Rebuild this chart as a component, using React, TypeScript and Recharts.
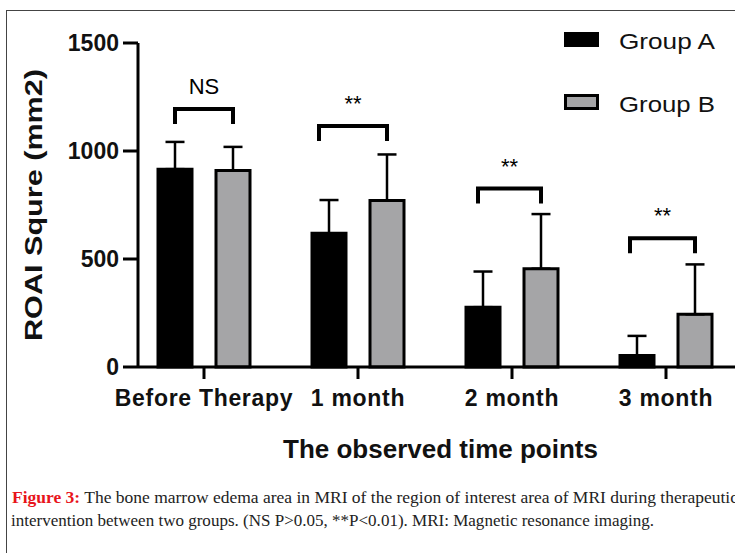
import { BarChart, Bar, XAxis, YAxis, ErrorBar, LabelList, Legend } from 'recharts';

const categories = ['Before Therapy', '1 month', '2 month', '3 month'];
const groupA = [916, 619, 277, 53];
const groupASd = [126, 154, 165, 91];
const groupB = [910, 771, 455, 244];
const groupBSd = [109, 213, 253, 231];
const bracketTop = [1194, 1116, 826, 596];
const sigLabels = ['NS', '**', '**', '**'];
const yTicks = [0, 500, 1000, 1500];

const data = categories.map((name, i) => ({
    name,
    groupA: groupA[i],
    groupB: groupB[i],
    errA: [0, groupASd[i]],
    errB: [0, groupBSd[i]],
    bracket: bracketTop[i],
}));

const BAR_SIZE = 34;
const BAR_GAP = 24;
const FONT = '"Liberation Sans", Arial, sans-serif';
// the left leg of some brackets sits a little left of the bar centre
const LEG_SHIFT = [0, 10, 5, 7];

const renderBracket = (props: any) => {
    const vb = props.viewBox || props;
    const { x, y, width, height } = vb;
    const i = props.index;
    if (x == null || i == null) return null;
    const base = y + height;
    const pxPerUnit = height / groupA[i];
    const top = base - bracketTop[i] * pxPerUnit;
    const x1 = x + width / 2 - LEG_SHIFT[i];
    const x2 = x + width / 2 + BAR_SIZE + BAR_GAP;
    return (
        <g key={`br-${i}`}>
            <path d={`M${x1},${top + 15} L${x1},${top} L${x2},${top} L${x2},${top + 15}`} fill="none" stroke="#000" strokeWidth={4} />
            <text x={(x1 + x2) / 2} y={top - 15} textAnchor="middle" fontSize={22} fontFamily={FONT} fill="#000">
                {sigLabels[i]}
            </text>
        </g>
    );
};

const renderYLabel = (props: any) => {
    const vb = props.viewBox || {};
    const cx = (vb.x || 0) + 34;
    const cy = (vb.y || 0) + (vb.height || 0) / 2;
    return (
        <text
            x={cx}
            y={cy}
            transform={`rotate(-90, ${cx}, ${cy})`}
            dy={8}
            textAnchor="middle"
            fontSize={24}
            fontWeight="bold"
            fontFamily={FONT}
            fill="#111"
            textLength={272}
            lengthAdjust="spacingAndGlyphs"
        >
            ROAI Squre (mm2)
        </text>
    );
};

const renderLegend = () => (
    <svg width={180} height={100}>
        <rect x={8} y={12} width={35} height={15} fill="#000" />
        <text x={63} y={29} fontSize={22} fontFamily={FONT} fill="#111" textLength={96} lengthAdjust="spacingAndGlyphs">Group A</text>
        <rect x={9.5} y={75.5} width={32} height={13} fill="#a5a5a7" stroke="#000" strokeWidth={3} />
        <text x={63} y={92} fontSize={22} fontFamily={FONT} fill="#111" textLength={96} lengthAdjust="spacingAndGlyphs">Group B</text>
    </svg>
);

export default function App() {
    return (
        <div style={{ position: 'fixed', left: 0, top: 0, width: 735, height: 553, overflow: 'hidden', background: '#fff' }}>
            <div style={{ position: 'absolute', left: 6, top: 10, width: 800, height: 600, border: '1.5px solid #444' }} />
            <div style={{ position: 'absolute', left: 0, top: 0 }}>
                <BarChart
                    width={760}
                    height={480}
                    data={data}
                    margin={{ top: 43, right: 17, left: 0, bottom: 0 }}
                    barSize={BAR_SIZE}
                    barGap={BAR_GAP}
                >
                    <XAxis
                        dataKey="name"
                        height={113}
                        padding={{ left: -11, right: 0 }}
                        axisLine={{ stroke: '#000', strokeWidth: 3 }}
                        tickLine={{ stroke: '#000', strokeWidth: 3 }}
                        tickSize={12}
                        tickMargin={11}
                        tick={{ fill: '#111', fontSize: 23, fontWeight: 'bold', fontFamily: FONT, letterSpacing: 0.7 }}
                        interval={0}
                        label={{ value: 'The observed time points', position: 'insideBottom', offset: 22, fill: '#111', fontSize: 26, fontWeight: 'bold', fontFamily: FONT }}
                    />
                    <YAxis
                        width={138}
                        domain={[0, 1500]}
                        ticks={yTicks}
                        axisLine={{ stroke: '#000', strokeWidth: 3 }}
                        tickLine={{ stroke: '#000', strokeWidth: 3 }}
                        tickSize={15}
                        tickMargin={4}
                        tick={{ fill: '#111', fontSize: 23, fontWeight: 'bold', fontFamily: FONT }}
                        label={{ content: renderYLabel }}
                    />
                    <Legend
                        layout="horizontal"
                        verticalAlign="middle"
                        align="center"
                        content={renderLegend}
                        wrapperStyle={{ left: 556, top: 20, width: 180, height: 100 }}
                    />
                    <Bar dataKey="groupA" fill="#000" stroke="#000" strokeWidth={3} isAnimationActive={false}>
                        <ErrorBar dataKey="errA" direction="y" width={9.5} stroke="#000" strokeWidth={2.5} />
                        <LabelList dataKey="bracket" content={renderBracket} />
                    </Bar>
                    <Bar dataKey="groupB" fill="#a5a5a7" stroke="#000" strokeWidth={3} isAnimationActive={false}>
                        <ErrorBar dataKey="errB" direction="y" width={9.5} stroke="#000" strokeWidth={2.5} />
                    </Bar>
                </BarChart>
            </div>
            <svg style={{ position: 'absolute', left: 0, top: 480 }} width={735} height={60}>
                <text x={12} y={23} fontSize={17} fontFamily='"Liberation Serif", "Times New Roman", serif' fill="#222" textLength={726} lengthAdjust="spacingAndGlyphs">
                    <tspan fill="#e8141b" fontWeight="bold">Figure 3:</tspan>
                    <tspan> The bone marrow edema area in MRI of the region of interest area of MRI during therapeutic</tspan>
                </text>
                <text x={11} y={46} fontSize={17} fontFamily='"Liberation Serif", "Times New Roman", serif' fill="#222" textLength={643} lengthAdjust="spacingAndGlyphs">
                    intervention between two groups. (NS P&gt;0.05, **P&lt;0.01). MRI: Magnetic resonance imaging.
                </text>
            </svg>
        </div>
    );
}
